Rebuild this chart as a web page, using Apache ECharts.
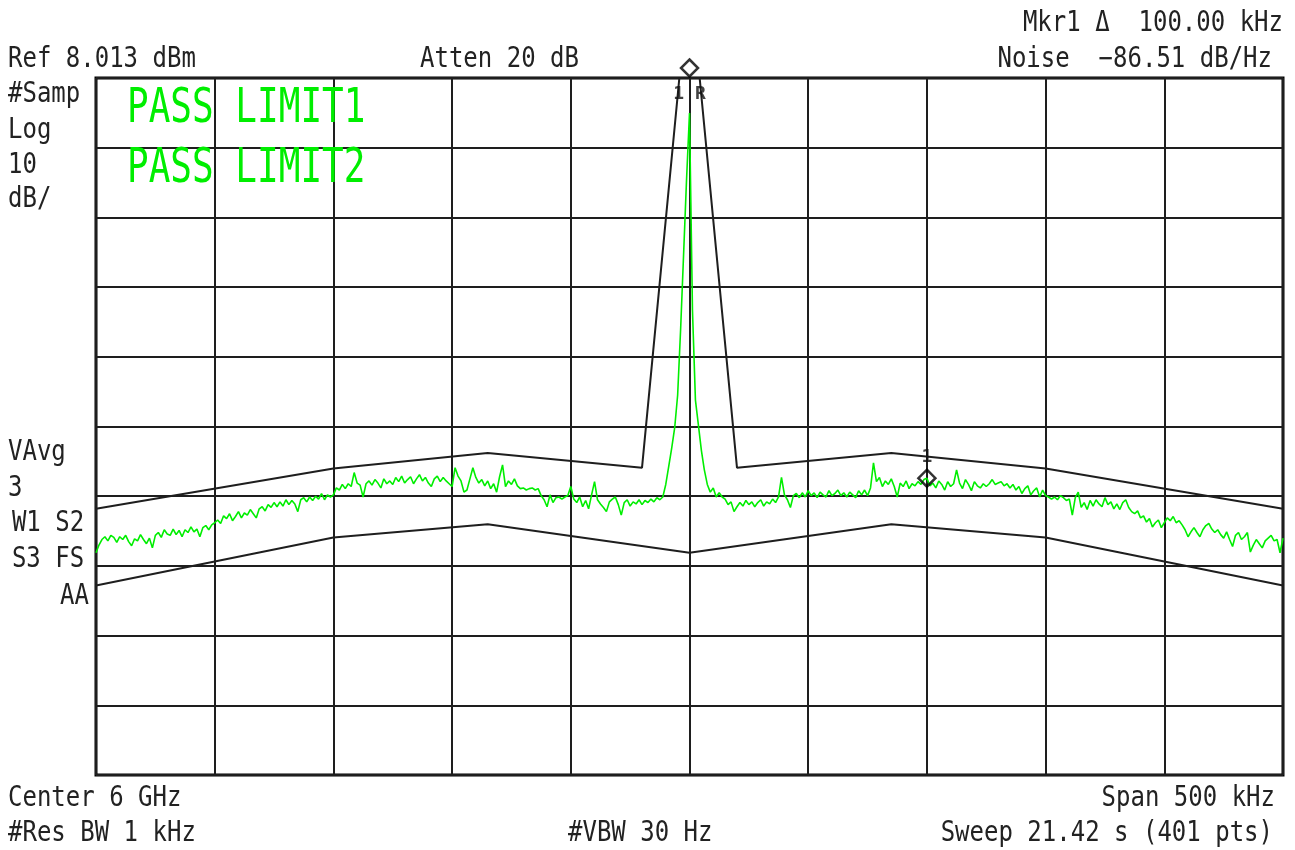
<!DOCTYPE html>
<html>
<head>
<meta charset="utf-8">
<title>Spectrum</title>
<script src="https://cdn.jsdelivr.net/npm/echarts@6/dist/echarts.min.js"></script>
<style>
  html, body { margin: 0; padding: 0; background: #fff; }
  #chart { width: 1295px; height: 850px; }
</style>
</head>
<body>
<div id="chart"></div>
<script>
// sweep settings
var REF_DBM = 8.013;
var START_KHZ = -250;      // offset from center 6 GHz
var STEP_KHZ = 1.25;       // 401 pts over 500 kHz
var MKR1_KHZ = 100;

// green trace, dBm, 401 points
var TRACE = [
  -60.1, -59.0, -58.2, -57.8, -58.4, -57.6, -57.9, -58.6, -57.8, -58.2,
  -57.6, -58.5, -59.1, -58.1, -58.4, -57.5, -58.2, -58.8, -58.0, -59.4,
  -57.6, -57.2, -57.9, -56.8, -57.4, -57.6, -56.7, -57.5, -56.9, -57.8,
  -56.8, -57.2, -56.4, -57.1, -56.7, -57.8, -56.5, -56.2, -56.8, -56.1,
  -55.8, -55.4, -55.9, -54.8, -55.2, -54.5, -55.5, -54.9, -54.2, -55.1,
  -54.4, -54.7, -53.9, -54.5, -55.1, -53.8, -53.5, -54.1, -53.2, -53.6,
  -52.9, -53.5, -52.8, -53.4, -52.5, -53.2, -52.6, -53.1, -54.2, -52.5,
  -52.2, -52.8, -52.1, -52.6, -52.0, -52.4, -51.6, -52.5, -51.8, -52.1,
  -51.8, -50.8, -51.1, -50.3, -50.9, -50.2, -50.6, -48.6, -50.1, -50.4,
  -52.1, -50.2, -49.8, -50.4, -49.6, -50.1, -50.8, -49.5, -50.2, -49.8,
  -50.3, -49.3, -49.9, -49.1, -50.1, -49.6, -49.2, -50.2, -49.5, -48.9,
  -49.8, -49.3, -50.1, -50.6, -49.5, -49.1, -49.9, -49.3, -49.8, -50.2,
  -50.6, -47.9, -49.1, -49.8, -51.4, -51.1, -49.5, -47.9, -49.3, -50.1,
  -49.6, -50.5, -49.8, -50.9, -50.2, -51.4, -49.2, -47.5, -50.6, -49.8,
  -50.3, -49.5, -50.5, -50.9, -50.8, -51.1, -50.9, -50.8, -51.1, -50.9,
  -51.9, -52.5, -53.5, -51.8, -52.9, -52.2, -52.1, -52.4, -52.1, -51.9,
  -50.6, -52.4, -52.9, -52.1, -53.5, -52.6, -53.8, -51.8, -49.9, -52.5,
  -53.1, -53.6, -54.2, -52.8, -52.4, -52.1, -53.2, -54.7, -52.9, -52.5,
  -53.4, -52.8, -53.1, -52.5, -53.2, -52.6, -52.9, -52.4, -52.8, -52.2, -52.5,
  -52.1, -50.3, -47.7, -45.1, -42.2, -37.5, -28.1, -17.4, -6.6, 3.0,
  -25.3, -38.2, -41.8, -45.4, -48.2, -50.3, -51.4, -50.8, -52.1,
  -51.5, -52.1, -52.4, -53.2, -52.8, -54.2, -53.5, -52.9, -53.4, -52.6,
  -53.2, -52.8, -53.5, -52.9, -52.5, -53.4, -52.8, -53.1, -52.4, -52.9,
  -52.1, -49.3, -51.8, -52.5, -53.6, -51.9, -51.6, -52.2, -51.5, -52.1,
  -51.2, -51.9, -51.5, -52.2, -51.4, -51.8, -52.1, -51.2, -51.9, -51.6,
  -51.1, -51.9, -51.5, -52.1, -51.4, -51.8, -52.2, -51.2, -51.8, -51.1,
  -51.9, -50.8, -47.2, -49.9, -49.3, -50.6, -49.8, -50.3, -49.5, -50.6,
  -52.1, -50.1, -50.6, -49.8, -50.9, -50.2, -50.5, -49.9, -50.3, -49.6,
  -49.4,
  -50.5, -50.1, -50.8, -49.8, -50.3, -51.1, -49.9, -50.6, -50.2,
  -48.2, -50.1, -50.9, -49.6, -50.3, -51.2, -49.9, -50.5, -50.8, -50.2,
  -50.6, -50.2, -49.6, -50.3, -50.1, -49.9, -50.5, -50.2, -50.8, -50.3,
  -51.1, -50.6, -51.6, -50.9, -50.5, -51.8, -51.2, -50.8, -52.1, -51.1,
  -51.9, -52.1, -52.4, -52.1, -52.5, -51.9, -52.2, -52.6, -52.4, -54.7,
  -52.2, -51.4, -53.6, -52.9, -53.9, -52.6, -53.4, -52.5, -53.1, -53.5,
  -52.2, -53.2, -52.8, -53.8, -53.1, -53.9, -52.9, -52.5, -53.6, -54.2,
  -54.5, -54.1, -55.1, -54.8, -55.7, -55.2, -56.4, -55.8, -55.4, -56.5,
  -55.8, -55.1, -55.5, -54.9, -55.8, -55.5, -56.1, -56.8, -57.8, -57.1,
  -56.5, -57.2, -57.8, -56.8, -56.2, -55.9, -56.7, -57.2, -56.8, -57.5,
  -58.0, -57.1, -58.2, -59.2, -57.6, -57.2, -58.2, -57.8, -57.2, -60.0,
  -59.0, -58.2, -58.8, -59.4, -58.4, -58.0, -57.6, -58.4, -58.2, -60.1, -58.0
];

// limit lines (kHz offset, dBm)
var UPPER_F = [-250, -150, -85, -20, -4, 4, 20, 85, 150, 250];
var UPPER_DB = [-53.8, -48.0, -45.8, -47.9, 9.0, 9.0, -47.9, -45.8, -48.0, -53.8];
var LOWER_F = [-250, -150, -85, 0, 85, 150, 250];
var LOWER_DB = [-64.8, -57.9, -56.0, -60.1, -56.0, -57.9, -64.8];

var GREEN = '#00ee00';
var INK = '#1e1e1e';
var MONO = '"DejaVu Sans Mono", "Liberation Mono", monospace';

function pairs(fs, vals) {
  return fs.map(function (f, i) { return [f, vals[i] - REF_DBM]; });
}

var traceData = TRACE.map(function (v, i) {
  return [START_KHZ + i * STEP_KHZ, v - REF_DBM];
});
var mkrIdx = Math.round((MKR1_KHZ - START_KHZ) / STEP_KHZ);

function label(text, x, y, align, opts) {
  opts = opts || {};
  return {
    type: 'text',
    x: x,
    y: y + 2,
    scaleY: opts.scaleY || 1.15,
    z: 100,
    style: {
      text: text,
      font: (opts.size || 24) + 'px ' + MONO,
      fill: opts.color || '#222',
      textAlign: align,
      align: align,
      textVerticalAlign: 'middle',
      verticalAlign: 'middle'
    }
  };
}

var markLabel = {
  show: true, fontFamily: 'DejaVu Sans Mono', fontSize: 18,
  fontWeight: 'bold', color: '#111'
};

var chart = echarts.init(document.getElementById('chart'));

var option = {
  animation: false,
  backgroundColor: '#fff',
  grid: {
    left: 96, right: 12, top: 78, bottom: 75,
    show: true, backgroundColor: '#fff',
    borderColor: '#000', borderWidth: 3
  },
  xAxis: {
    type: 'value', min: -250, max: 250, interval: 50,
    axisLine: { show: false }, axisTick: { show: false }, axisLabel: { show: false },
    splitLine: { show: true, lineStyle: { color: INK, width: 2 } }
  },
  yAxis: {
    type: 'value', min: -100, max: 0, interval: 10,
    axisLine: { show: false }, axisTick: { show: false }, axisLabel: { show: false },
    splitLine: { show: true, lineStyle: { color: INK, width: 2 } }
  },
  series: [
    {
      name: 'trace', type: 'line', data: traceData,
      symbol: 'none', z: 2,
      lineStyle: { color: GREEN, width: 1.6 }
    },
    {
      name: 'limit1', type: 'line', data: pairs(UPPER_F, UPPER_DB),
      symbol: 'none', z: 3,
      lineStyle: { color: INK, width: 2 }
    },
    {
      name: 'limit2', type: 'line', data: pairs(LOWER_F, LOWER_DB),
      symbol: 'none', z: 3,
      lineStyle: { color: INK, width: 2 }
    },
    {
      name: 'markers', type: 'scatter', clip: false, z: 5,
      symbol: 'diamond', symbolSize: 17,
      itemStyle: { color: 'rgba(255,255,255,0)', borderColor: '#000', borderWidth: 2.5 },
      label: markLabel,
      data: [
        { value: [0, 0], symbolOffset: [0, -10],
          label: Object.assign({}, markLabel, { formatter: '1 R', position: 'bottom', distance: 8 }) },
        { value: [MKR1_KHZ, TRACE[mkrIdx] - REF_DBM],
          label: Object.assign({}, markLabel, { formatter: '1', position: 'top', distance: 2 }) }
      ]
    }
  ],
  graphic: [
    label('Mkr1 \u0394  100.00 kHz', 1283, 22, 'right'),
    label('Ref 8.013 dBm', 8, 58, 'left'),
    label('Atten 20 dB', 420, 58, 'left'),
    label('Noise  \u221286.51 dB/Hz', 1272, 58, 'right'),
    label('#Samp', 8, 93, 'left'),
    label('Log', 8, 129, 'left'),
    label('10', 8, 164, 'left'),
    label('dB/', 8, 198, 'left'),
    label('VAvg', 8, 451, 'left'),
    label('3', 8, 487, 'left'),
    label('W1 S2', 48, 522, 'center'),
    label('S3 FS', 48, 558, 'center'),
    label('AA', 89, 595, 'right'),
    label('Center 6 GHz', 8, 797, 'left'),
    label('#Res BW 1 kHz', 8, 832, 'left'),
    label('#VBW 30 Hz', 568, 832, 'left'),
    label('Span 500 kHz', 1275, 797, 'right'),
    label('Sweep 21.42 s (401 pts)', 1273, 832, 'right'),
    label('PASS LIMIT1', 127, 108, 'left', { size: 36, scaleY: 1.33, color: GREEN }),
    label('PASS LIMIT2', 127, 168, 'left', { size: 36, scaleY: 1.33, color: GREEN })
  ]
};

chart.setOption(option);
</script>
</body>
</html>
